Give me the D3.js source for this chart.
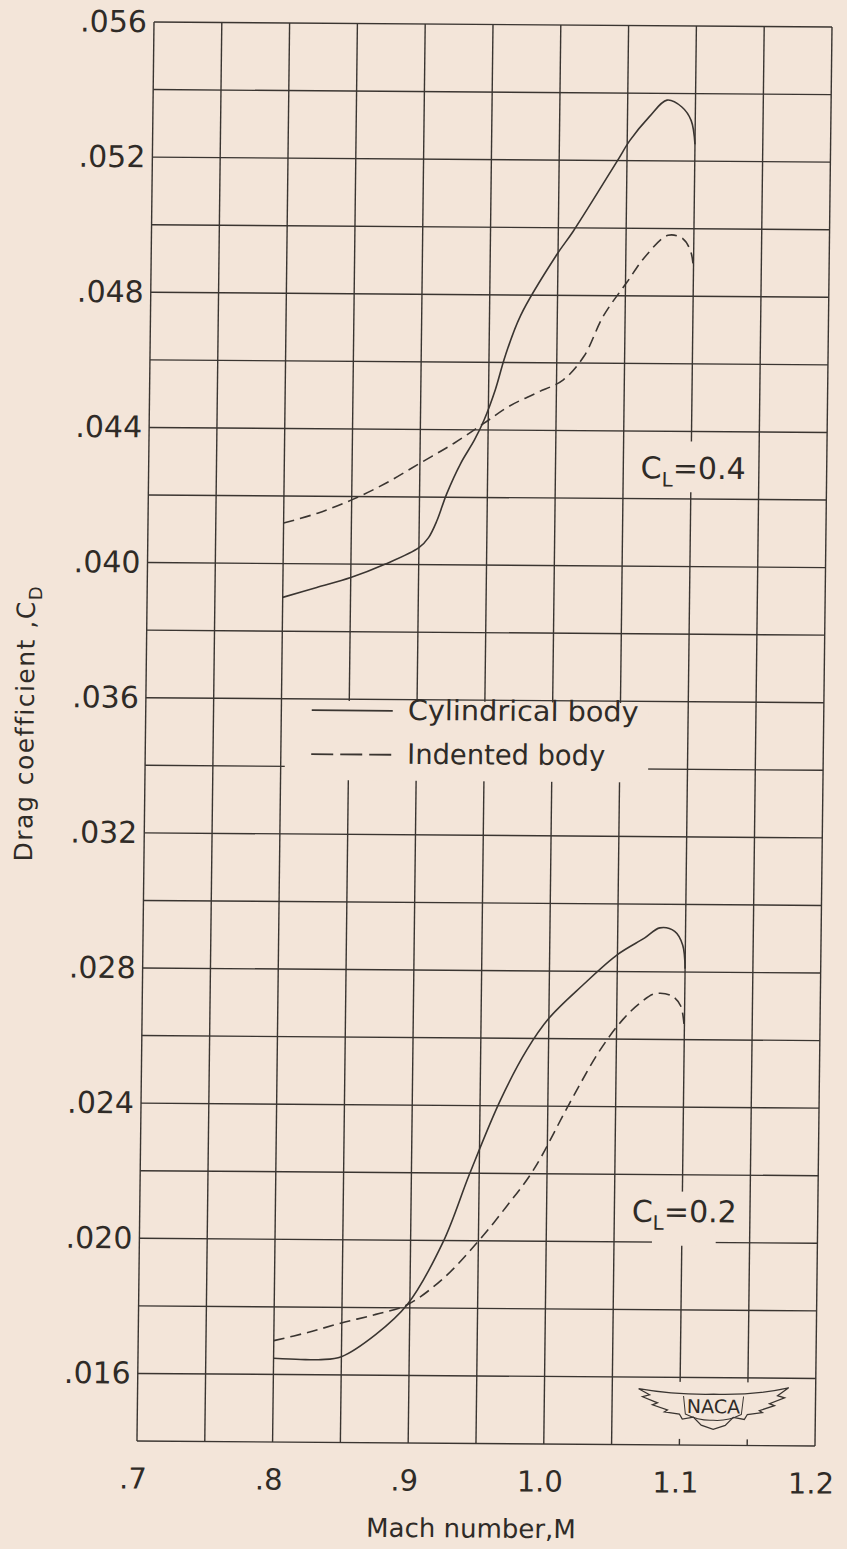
<!DOCTYPE html>
<html>
<head>
<meta charset="utf-8">
<script src="https://cdn.jsdelivr.net/npm/d3@7"></script>
<style type="text/css">
	body{
		margin: 0;
		background: #f3e5d9;
	}
	svg text{
		font-family: "DejaVu Sans", sans-serif;
		fill: #2f2b27;
	}
</style>
</head>
<body>
<svg id="chart" width="847" height="1549"></svg>

<script type="text/javascript">
	// axis ticks
	var machTicks = [0.7, 0.8, 0.9, 1.0, 1.1, 1.2];
	var machTickLabels = [".7", ".8", ".9", "1.0", "1.1", "1.2"];
	var cdTicks = [0.016, 0.020, 0.024, 0.028, 0.032, 0.036, 0.040, 0.044, 0.048, 0.052, 0.056];
	var cdTickLabels = [".016", ".020", ".024", ".028", ".032", ".036", ".040", ".044", ".048", ".052", ".056"];

	// C_L = 0.4, cylindrical body (solid)
	var cylMach04 = [0.800, 0.825, 0.850, 0.875, 0.900, 0.907, 0.913, 0.920, 0.930, 0.940, 0.947, 0.955, 0.962, 0.973, 0.999, 1.011, 1.043, 1.052, 1.066, 1.079, 1.090, 1.097, 1.100];
	var cylCd04   = [0.0390, 0.0393, 0.0396, 0.0400, 0.0405, 0.0408, 0.0413, 0.0421, 0.0430, 0.0437, 0.0443, 0.0452, 0.0462, 0.0474, 0.0492, 0.0499, 0.0520, 0.0526, 0.0533, 0.0538, 0.0536, 0.0532, 0.0525];
	// C_L = 0.4, indented body (dashed)
	var indMach04 = [0.800, 0.825, 0.850, 0.875, 0.900, 0.925, 0.947, 0.965, 0.985, 1.005, 1.020, 1.034, 1.051, 1.065, 1.081, 1.092, 1.098, 1.100];
	var indCd04   = [0.0412, 0.0415, 0.0419, 0.0424, 0.0430, 0.0436, 0.0442, 0.0447, 0.0451, 0.0455, 0.0462, 0.0474, 0.0484, 0.0492, 0.0498, 0.0497, 0.0493, 0.0488];
	// C_L = 0.2, cylindrical body (solid)
	var cylMach02 = [0.800, 0.820, 0.835, 0.850, 0.875, 0.898, 0.924, 0.943, 0.965, 0.984, 1.000, 1.025, 1.050, 1.070, 1.081, 1.092, 1.098, 1.100];
	var cylCd02   = [0.01648, 0.01645, 0.01645, 0.01654, 0.0172, 0.01809, 0.01996, 0.02199, 0.02417, 0.02566, 0.0266, 0.0276, 0.0285, 0.0290, 0.0293, 0.0292, 0.0288, 0.0281];
	// C_L = 0.2, indented body (dashed)
	var indMach02 = [0.800, 0.825, 0.849, 0.875, 0.898, 0.925, 0.950, 0.970, 0.990, 1.016, 1.038, 1.055, 1.068, 1.078, 1.090, 1.097, 1.100];
	var indCd02   = [0.0170, 0.01725, 0.01753, 0.0178, 0.01809, 0.0189, 0.01999, 0.0210, 0.02211, 0.02409, 0.02567, 0.0266, 0.0271, 0.02735, 0.0273, 0.0270, 0.0263];

	var ink = "#3a3531";
	var paper = "#f3e5d9";
	var W = 678, H = 1419;

	var svg = d3.select("#chart");
	svg.append("rect").attr("width", 847).attr("height", 1549).attr("fill", paper);

	// the scanned sheet sits a little askew, the whole plot follows it
	var g = svg.append("g")
		.attr("transform", "matrix(1,0.0074,-0.012,1,154,22)");

	var x = d3.scaleLinear().domain([0.7, 1.2]).range([0, W]);
	var y = d3.scaleLinear().domain([0.014, 0.056]).range([H, 0]);

	// grid
	var grid = g.append("g").attr("stroke", ink).attr("stroke-width", 1.4);
	grid.selectAll("line.v")
		.data(x.ticks(10))
		.enter()
		.append("line")
		.attr("class", "v")
		.attr("x1", function(d){ return x(d); })
		.attr("x2", function(d){ return x(d); })
		.attr("y1", 0)
		.attr("y2", H);
	grid.selectAll("line.h")
		.data(y.ticks(21))
		.enter()
		.append("line")
		.attr("class", "h")
		.attr("x1", 0)
		.attr("x2", W)
		.attr("y1", function(d){ return y(d); })
		.attr("y2", function(d){ return y(d); });

	// blank patches where the lettering sits on the sheet
	var blanks = [
		{x0: 0.803, x1: 1.071, y0: 0.03595, y1: 0.0336},
		{x0: 1.078, x1: 1.125, y0: 0.0437, y1: 0.0422},
		{x0: 1.078, x1: 1.125, y0: 0.0215, y1: 0.0199},
		{x0: 1.06, x1: 1.19, y0: 0.01587, y1: 0.01418}
	];
	g.selectAll("rect.blank")
		.data(blanks)
		.enter()
		.append("rect")
		.attr("class", "blank")
		.attr("fill", paper)
		.attr("x", function(d){ return x(d.x0); })
		.attr("width", function(d){ return x(d.x1) - x(d.x0); })
		.attr("y", function(d){ return y(d.y0); })
		.attr("height", function(d){ return y(d.y1) - y(d.y0); });

	// axes, labels only
	var yAxis = d3.axisLeft(y)
		.tickValues(cdTicks)
		.tickSize(0)
		.tickPadding(7)
		.tickFormat(function(d, i){ return cdTickLabels[i]; });
	var ya = g.append("g").call(yAxis);
	ya.select(".domain").remove();
	ya.selectAll("text").attr("font-size", 30).style("font-family", "DejaVu Sans").attr("fill", "#2f2b27");

	var xAxis = d3.axisBottom(x)
		.tickValues(machTicks)
		.tickSize(0)
		.tickPadding(27)
		.tickFormat(function(d, i){ return machTickLabels[i]; });
	var xa = g.append("g").attr("transform", "translate(0," + H + ")").call(xAxis);
	xa.select(".domain").remove();
	xa.selectAll("text").attr("font-size", 29).attr("dx", -4).style("font-family", "DejaVu Sans").attr("fill", "#2f2b27");

	// axis titles
	g.append("text")
		.attr("x", W / 2 - 4)
		.attr("y", H + 94)
		.attr("text-anchor", "middle")
		.attr("font-size", 26)
		.text("Mach number,M");

	var yt = g.append("text")
		.attr("transform", "translate(-112," + 702 + ") rotate(-90)")
		.attr("text-anchor", "middle")
		.attr("font-size", 25)
		.attr("letter-spacing", 1.5);
	yt.append("tspan").text("Drag  coefficient ,C");
	yt.append("tspan").attr("dy", 7).attr("font-size", 18).text("D");

	// curves
	var line = d3.line()
		.x(function(d){ return x(d[0]); })
		.y(function(d){ return y(d[1]); })
		.curve(d3.curveCatmullRom.alpha(0.5));

	var curves = [
		{m: cylMach04, c: cylCd04, dash: null},
		{m: indMach04, c: indCd04, dash: "11,6"},
		{m: cylMach02, c: cylCd02, dash: null},
		{m: indMach02, c: indCd02, dash: "11,6"}
	];
	g.selectAll("path.curve")
		.data(curves)
		.enter()
		.append("path")
		.attr("class", "curve")
		.attr("fill", "none")
		.attr("stroke", ink)
		.attr("stroke-width", 1.6)
		.attr("stroke-dasharray", function(d){ return d.dash; })
		.attr("d", function(d){ return line(d.m.map(function(v, i){ return [v, d.c[i]]; })); });

	// legend
	var legend = [
		{label: "Cylindrical  body", dash: null, len: 231, v: 0.0354},
		{label: "Indented  body", dash: "22,7", len: 198, v: 0.0341}
	];
	var lg = g.selectAll("g.legend")
		.data(legend)
		.enter()
		.append("g")
		.attr("class", "legend")
		.attr("transform", function(d){ return "translate(0," + y(d.v) + ")"; });
	lg.append("line")
		.attr("x1", 166).attr("x2", 247)
		.attr("y1", -9).attr("y2", -9)
		.attr("stroke", ink)
		.attr("stroke-width", 1.8)
		.attr("stroke-dasharray", function(d){ return d.dash; });
	lg.append("text")
		.attr("x", 262)
		.attr("font-size", 28)
		.attr("textLength", function(d){ return d.len; })
		.attr("lengthAdjust", "spacingAndGlyphs")
		.text(function(d){ return d.label; });

	// C_L labels
	var clLabels = [{v: 0.0426, txt: "0.4"}, {v: 0.0206, txt: "0.2"}];
	var cl = g.selectAll("text.cl")
		.data(clLabels)
		.enter()
		.append("text")
		.attr("class", "cl")
		.attr("x", 492)
		.attr("y", function(d){ return y(d.v); })
		.attr("font-size", 30);
	cl.append("tspan").text("C");
	cl.append("tspan").attr("font-size", 20).attr("dy", 8).text("L");
	cl.append("tspan").attr("dy", -8).text("=");
	cl.append("tspan").text(function(d){ return d.txt; });

	// NACA emblem
	var logo = g.append("g").attr("transform", "translate(576,1378)");
	logo.append("path")
		.attr("d", "M-75,-15 Q-40,-9 0,-10 Q40,-9 75,-17 L64,-9 L71,-7 L56,-1 L61,1 L46,6 L49,8 L34,10 L31,15 L20,13 L12,21 L0,25 L-12,21 L-20,13 L-31,15 L-34,10 L-49,8 L-46,6 L-61,1 L-56,-1 L-71,-7 L-64,-9 Z")
		.attr("fill", paper)
		.attr("stroke", ink)
		.attr("stroke-width", 1.3);
	logo.append("path")
		.attr("d", "M-30,-8 L-28,10 Q-14,17 0,16 Q14,17 28,10 L30,-8")
		.attr("fill", "none")
		.attr("stroke", ink)
		.attr("stroke-width", 1);
	logo.append("text")
		.attr("x", 0)
		.attr("y", 9)
		.attr("text-anchor", "middle")
		.attr("font-size", 19)
		.text("NACA");
</script>
</body>
</html>
